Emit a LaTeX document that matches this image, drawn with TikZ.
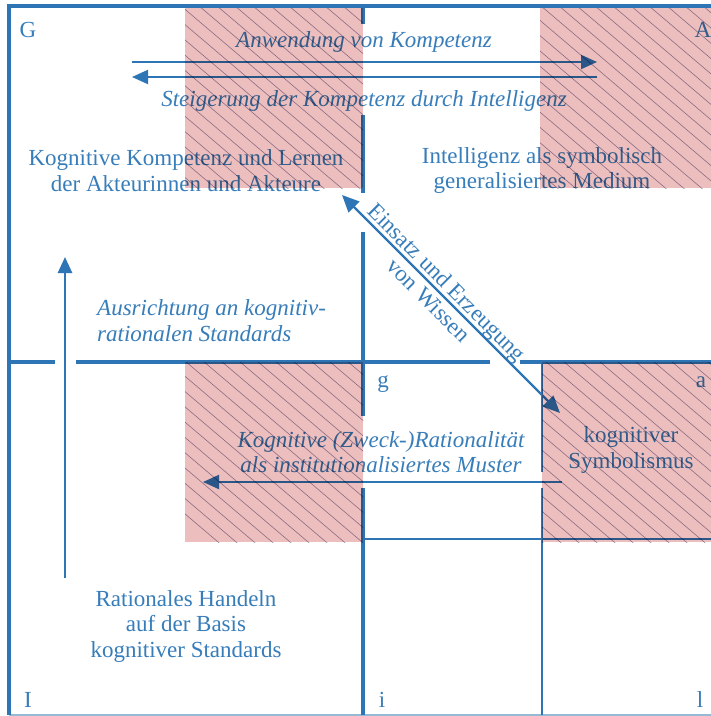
\documentclass[tikz,border=0pt]{standalone}
\usepackage{fontspec}
\setmainfont{Liberation Serif}
\usetikzlibrary{arrows.meta}
\definecolor{lineblue}{RGB}{46,117,182}
\definecolor{txtblue}{RGB}{55,125,186}
\definecolor{pinkfill}{RGB}{237,190,190}
\definecolor{hatchc}{RGB}{150,145,178}
\definecolor{bottomc}{RGB}{150,185,212}
\begin{document}
\begin{tikzpicture}[x=1pt,y=-1pt,
  lbl/.style={font=\fontsize{23}{25.5}\selectfont, text=txtblue, inner sep=0pt},
  ital/.style={font=\fontsize{23}{25.5}\selectfont\itshape, text=txtblue, inner sep=0pt},
  heavy/.style={draw=lineblue, line width=4pt},
  light/.style={draw=lineblue, line width=2pt},
  arr/.style={draw=lineblue, line width=2pt, -{Triangle[length=16pt,width=14pt]}},
  darr/.style={draw=lineblue, line width=2.4pt, {Triangle[length=17pt,width=15pt]}-{Triangle[length=17pt,width=15pt]}},
  hatchline/.style={draw=hatchc, line width=0.6pt}
]
\useasboundingbox (0,0) rectangle (711,716);
\fill[white] (0,0) rectangle (711,716);

% frame
\draw[draw=bottomc, line width=2pt] (9,715) -- (711,715);
\draw[heavy] (9,715) -- (9,6) -- (711,6);
% central vertical line
\draw[heavy] (363,6) -- (363,24);
\draw[heavy] (363,115) -- (363,193);
\draw[heavy] (363,232) -- (363,416);
\draw[heavy] (363,488) -- (363,715);
% middle horizontal line
\draw[heavy] (9,362) -- (55,362);
\draw[heavy] (76,362) -- (490,362);
\draw[heavy] (520,362) -- (711,362);
% inner thin lines
\draw[light] (363,539) -- (711,539);
\draw[light] (542,362) -- (542,472);
\draw[light] (542,488) -- (542,715);

% corner labels
\node[lbl, anchor=base] (G) at (28,37) {G};
\node[lbl, anchor=base] (A) at (703,37) {A};
\node[lbl, anchor=base] (g) at (383,387) {g};
\node[lbl, anchor=base] (a) at (701,387) {a};
\node[lbl, anchor=base] (I) at (28,707) {I};
\node[lbl, anchor=base] (i) at (382,707) {i};
\node[lbl, anchor=base] (l) at (700,707) {l};

% texts
\node[ital, anchor=base] (anw) at (364,47) {Anwendung von Kompetenz};
\node[ital, anchor=base] (steig) at (364,106) {Steigerung der Kompetenz durch Intelligenz};
\node[lbl, align=center] (kog) at (186,170.5) {Kognitive Kompetenz und Lernen\\der Akteurinnen und Akteure};
\node[lbl, align=center] (intel) at (542,170.5) {Intelligenz als symbolisch\\generalisiertes Medium};
\node[ital, align=left, anchor=west] (ausr) at (97,320.5) {Ausrichtung an kognitiv-\\rationalen Standards};
\node[ital, align=center] (zweck) at (381,452) {Kognitive (Zweck-)Rationalität\\als institutionalisiertes Muster};
\node[lbl, align=center] (symb) at (631,450) {kognitiver\\Symbolismus};
\node[lbl, align=center] (rat) at (186,626) {Rationales Handeln\\auf der Basis\\kognitiver Standards};
\node[lbl, align=center, rotate=-45] (einsatz) at (438,291) {Einsatz und Erzeugung\\von Wissen};

% arrows
\coordinate (t1L) at (132,62);
\coordinate (t1R) at (597,62);
\coordinate (t2R) at (597,77);
\coordinate (t2L) at (132,77);
\draw[arr] (t1L) -- (t1R);
\draw[arr] (t2R) -- (t2L);
\coordinate (upB) at (65,578);
\coordinate (upT) at (65,257);
\draw[arr, line width=2.6pt] (upB) -- (upT);
\coordinate (loR) at (562,482);
\coordinate (loL) at (203,482);
\draw[arr] (loR) -- (loL);
\coordinate (dA) at (342,195);
\coordinate (dB) at (560,413);
\draw[darr] (dA) -- (dB);

% pink hatched fields
\begin{scope}[blend mode=multiply]
\foreach \xa/\ya/\xb/\yb in {185/8/363/188, 540/8/711/188, 185/362/363/542, 542/362/711/542}{
  \begin{scope}
    \clip (\xa,\ya) rectangle (\xb,\yb);
    \fill[pinkfill] (\xa,\ya) rectangle (\xb,\yb);
    \foreach \c in {-420,-402,...,720}
      \draw[hatchline] (\c,0) -- ++(850,722);
  \end{scope}
}
\end{scope}
\end{tikzpicture}
\end{document}
